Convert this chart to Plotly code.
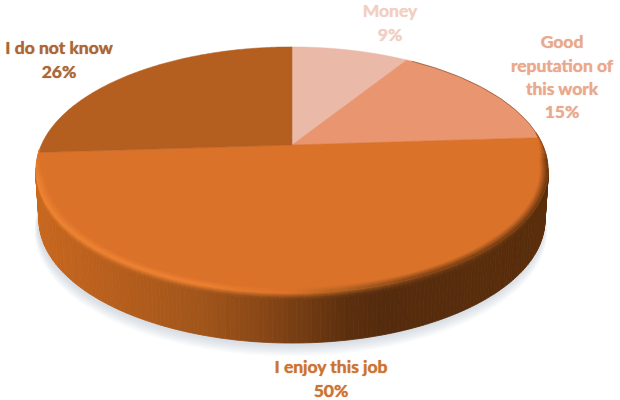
import numpy as np
import plotly.graph_objects as go

# Survey shares, clockwise from twelve o'clock
categories = ["Money", "Good reputation of this work", "I enjoy this job", "I do not know"]
shares = [9, 15, 50, 26]
label_lines = [["Money"], ["Good", "reputation of", "this work"], ["I enjoy this job"], ["I do not know"]]

slice_colors = ["#EBB9A8", "#E9956F", "#DA722A", "#B45F20"]
label_colors = ["#F1CFC2", "#E8A98F", "#CC7437", "#AB673A"]
label_centers = [(390, 13), (562, 44), (331, 369), (59, 50)]
LINE_STEP = 23.3

# Perspective tilt of the disc, in page pixels
CX, CY, RX, RY, TILT = 292, 145, 250.7, 118, 0.203
DEPTH = 50
BOTTOM_SHRINK = 0.012


def project(theta, radius=1.0, drop=0.0):
    depth_x, depth_y = radius * np.sin(theta), radius * np.cos(theta)
    scale = 1 / (1 + TILT * depth_y)
    x = CX + RX * depth_x * scale
    return CX + (x - CX) * (1 - BOTTOM_SHRINK * drop / DEPTH), CY - RY * depth_y * scale + drop


def hex_rgb(code):
    return np.array([int(code[i:i + 2], 16) for i in (1, 3, 5)], dtype=float)


def ramp(x, stops):
    xs = [s[0] for s in stops]
    return np.array([np.interp(x, xs, [hex_rgb(s[1])[c] for s in stops]) for c in range(3)])


def css(rgb):
    return "rgb(%d,%d,%d)" % tuple(int(round(c)) for c in rgb)


wall_stops = [(35, "#C8681F"), (100, "#BA601D"), (200, "#A1551A"), (260, "#8A4716"),
              (310, "#6F3A12"), (345, "#5C2F0E"), (380, "#552B0D"), (550, "#5A2E0C")]
edge_stops = [(35, "#F08534"), (200, "#EE8232"), (290, "#DD7429"), (350, "#A85C20"),
              (420, "#7C4215"), (550, "#6A360F")]
top_rgb = hex_rgb(slice_colors[2])
BLEND_ROWS = 6

fig = go.Figure()


def add_polygon(x, y, fill, line=None, width=0.0):
    fig.add_trace(go.Scatter(x=x, y=y, mode="lines", fill="toself", fillcolor=fill,
                             line=dict(color=line or fill, width=width, simplify=False),
                             hoverinfo="skip", showlegend=False))


# Soft cast shadow under the disc
ring = np.linspace(0, 2 * np.pi, 241)
for spread in range(7, 0, -1):
    sx, sy = project(ring, 1.0 + spread * 0.0022, DEPTH + 1 + spread * 1.3)
    add_polygon(sx - 1, sy, "rgba(150,170,190,0.055)")

# Slice boundaries from the cumulative shares
edges = 2 * np.pi * np.cumsum([0] + shares) / sum(shares)

# Front wall and rim; strips share a colour by page column, which keeps the ramp smooth
front = np.linspace(np.arccos(-TILT) - 0.02, 2 * np.pi - np.arccos(-TILT) + 0.02, 181)
wall_groups, blend_groups, rim_groups = {}, {}, {}


def put(groups, key, xs, ys):
    # Each quad is closed so its outline covers the seam on all four sides
    bucket = groups.setdefault(key, ([], []))
    bucket[0].extend(list(xs) + [xs[0], None])
    bucket[1].extend(list(ys) + [ys[0], None])


for a, b in zip(front[:-1], front[1:]):
    xa, ya = project(a)
    xb, yb = project(b)
    col = round((xa + xb) / 2 / 3) * 3
    low_a, low_b = project(a, 1.0, DEPTH), project(b, 1.0, DEPTH)
    put(wall_groups, col, [xa, xb, low_b[0], low_a[0]],
        [ya + BLEND_ROWS, yb + BLEND_ROWS, low_b[1], low_a[1]])
    for row in range(BLEND_ROWS):
        put(blend_groups, (col // 6 * 6, row), [xa, xb, xb, xa],
            [ya + row, yb + row, yb + row + 1, ya + row + 1])

for col in sorted(wall_groups, reverse=True):
    xs, ys = wall_groups[col]
    colour = css(ramp(col, wall_stops))
    add_polygon(xs, ys, colour, colour, 0.8)

for (col, row) in sorted(blend_groups, key=lambda k: (-k[0], k[1])):
    xs, ys = blend_groups[(col, row)]
    edge, wall = ramp(col, edge_stops), ramp(col, wall_stops)
    colour = css(edge + (wall - edge) * ((row + 0.5) / BLEND_ROWS))
    add_polygon(xs, ys, colour, colour, 0.8)

# Top face
for start, stop, colour in zip(edges[:-1], edges[1:], slice_colors):
    arc = np.linspace(start, stop, 160)
    ax, ay = project(arc)
    add_polygon(np.r_[CX, ax, CX], np.r_[CY, ay, CY], colour, colour, 0.5)

# Bevel on the front of the top face, fading out toward the two sides
rim = np.linspace(np.radians(84), np.radians(268), 181)
rim_mid = (rim[:-1] + rim[1:]) / 2
for a, b, m in zip(rim[:-1], rim[1:], rim_mid):
    col = round(project(m)[0] / 6) * 6
    fade = np.clip(min(m - rim[0], rim[-1] - m) / np.radians(14), 0, 1)
    level = round(float(fade) * 5) / 5
    for row in range(BLEND_ROWS):
        r0, r1 = 1 - (BLEND_ROWS - row) * 0.005 * fade, 1 - (BLEND_ROWS - row - 1) * 0.005 * fade
        p0, p1 = project(a, r0), project(b, r0)
        p2, p3 = project(b, r1), project(a, r1)
        put(rim_groups, (col, row, level), [p0[0], p1[0], p2[0], p3[0]], [p0[1], p1[1], p2[1], p3[1]])

for key in sorted(rim_groups, key=lambda k: (k[1], k[0])):
    xs, ys = rim_groups[key]
    col, row, level = key
    edge = ramp(col, edge_stops)
    colour = css(top_rgb + (edge - top_rgb) * ((row + 0.5) / BLEND_ROWS) * level)
    add_polygon(xs, ys, colour, colour, 0.7)

# Thin dark line where the far rim meets the page
far = np.linspace(np.radians(34), np.radians(100), 60)
fx, fy = project(far)
fig.add_trace(go.Scatter(x=fx, y=fy, mode="lines", line=dict(color="rgba(110,60,30,0.55)", width=1),
                         hoverinfo="skip", showlegend=False))

# Data labels, one text item per line
for lines, share, (lx, ly), colour in zip(label_lines, shares, label_centers, label_colors):
    rows = lines + [f"{share}%"]
    fig.add_trace(go.Scatter(
        x=[lx] * len(rows), y=[ly + i * LINE_STEP for i in range(len(rows))],
        mode="text", text=rows, textposition="middle center",
        textfont=dict(family="Lato", size=17.5, color=colour, weight=700, shadow=f"0 0 1px {colour}"),
        hoverinfo="skip", showlegend=False))

fig.update_layout(
    width=620, height=400, margin=dict(l=0, r=0, t=0, b=0),
    paper_bgcolor="white", plot_bgcolor="white", showlegend=False,
    xaxis=dict(range=[0, 620], visible=False, fixedrange=True),
    yaxis=dict(range=[400, 0], visible=False, fixedrange=True),
)
fig.write_html("out.html", config={"displayModeBar": False})
